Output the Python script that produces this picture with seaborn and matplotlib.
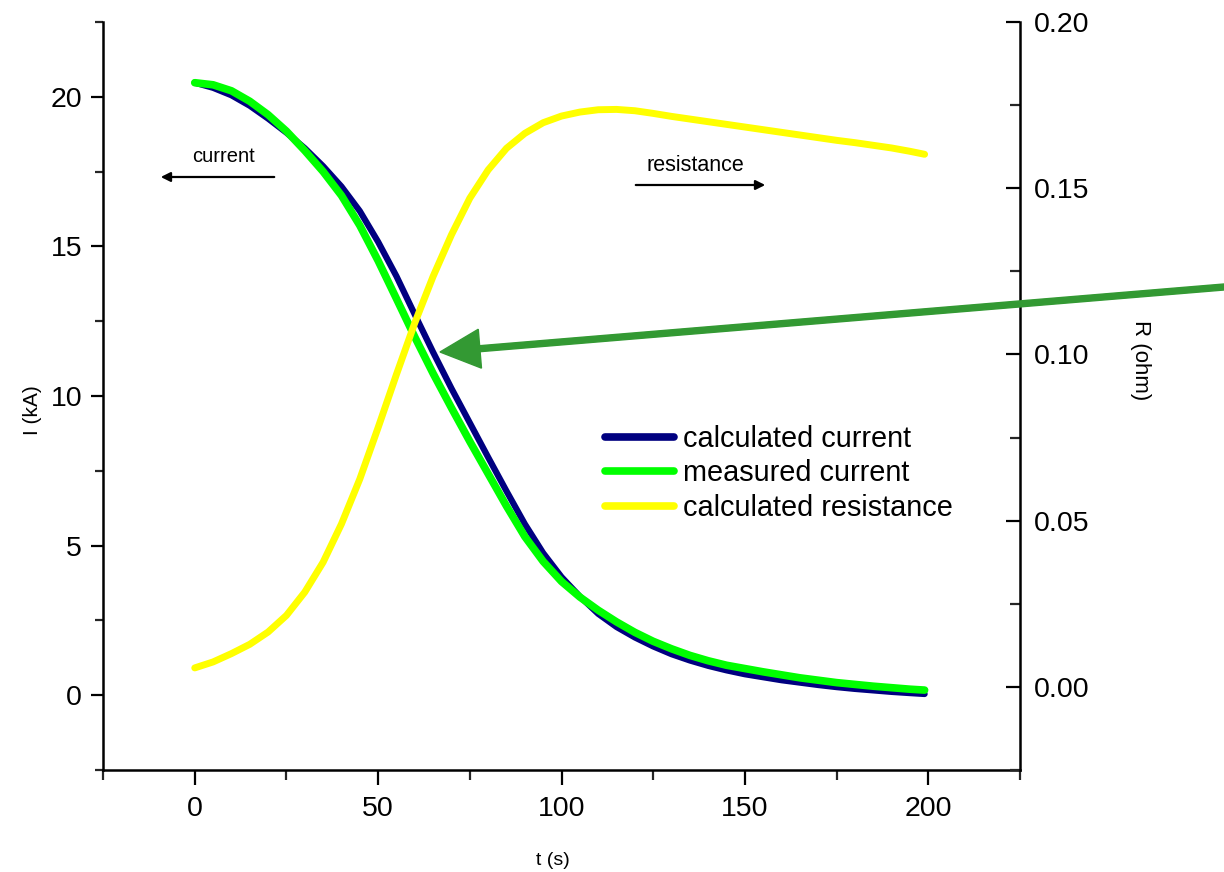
import numpy as np
import pandas as pd
import seaborn as sns
import matplotlib.pyplot as plt
from matplotlib.patches import FancyArrow
from matplotlib.lines import Line2D

# time axis (s) and values
t = [0, 5, 10, 15, 20, 25, 30, 35, 40, 45, 50, 55, 60, 65, 70, 75, 80, 85, 90, 95,
     100, 105, 110, 115, 120, 125, 130, 135, 140, 145, 150, 155, 160, 165, 170, 175,
     180, 185, 190, 195, 199]

# calculated current (kA)
calc_current = [20.47, 20.30, 20.05, 19.70, 19.27, 18.80, 18.28, 17.68, 17.00, 16.18,
                15.15, 14.00, 12.72, 11.46, 10.25, 9.10, 7.95, 6.82, 5.72, 4.75,
                3.95, 3.30, 2.72, 2.28, 1.93, 1.63, 1.37, 1.16, 0.98, 0.83,
                0.70, 0.60, 0.50, 0.42, 0.34, 0.27, 0.21, 0.16, 0.11, 0.07, 0.04]

# measured current (kA)
meas_current = [20.47, 20.40, 20.20, 19.85, 19.40, 18.85, 18.20, 17.50, 16.70, 15.70,
                14.52, 13.25, 11.97, 10.75, 9.60, 8.48, 7.40, 6.32, 5.30, 4.47,
                3.80, 3.28, 2.84, 2.45, 2.10, 1.80, 1.55, 1.33, 1.15, 1.00,
                0.89, 0.78, 0.68, 0.58, 0.50, 0.42, 0.36, 0.30, 0.25, 0.20, 0.17]

# calculated resistance (ohm)
calc_resistance = [0.0057, 0.0075, 0.0100, 0.0128, 0.0165, 0.0215, 0.0285, 0.0375, 0.0490,
                   0.0625, 0.0780, 0.0940, 0.1095, 0.1235, 0.1360, 0.1470, 0.1555, 0.1620,
                   0.1665, 0.1697, 0.1717, 0.1729, 0.1736, 0.1737, 0.1733, 0.1725, 0.1716,
                   0.1708, 0.1700, 0.1692, 0.1684, 0.1676, 0.1668, 0.1660, 0.1652, 0.1644,
                   0.1637, 0.1629, 0.1621, 0.1611, 0.1602]

sns.set_style('ticks')
plt.rcParams['font.family'] = ['Liberation Sans', 'DejaVu Sans']

fig = plt.figure(figsize=(12.24, 8.72), dpi=100)
ax = fig.add_axes([0.0842, 0.1170, 0.7491, 0.8578])
ax2 = ax.twinx()

df = pd.DataFrame({'t': t, 'calc': calc_current, 'meas': meas_current, 'R': calc_resistance})

line_kw = dict(solid_joinstyle='round', solid_capstyle='round')
sns.lineplot(data=df, x='t', y='calc', ax=ax, color='#000080', linewidth=4.5, zorder=2, **line_kw)
sns.lineplot(data=df, x='t', y='meas', ax=ax, color='#00ff00', linewidth=5.5, zorder=3, **line_kw)
sns.lineplot(data=df, x='t', y='R', ax=ax2, color='#ffff00', linewidth=5, zorder=4, **line_kw)

ax.set_xlim(-25, 225)
ax.set_ylim(-2.5, 22.5)
ax2.set_ylim(-0.025, 0.20)

ax.set_xticks([0, 50, 100, 150, 200])
ax.set_xticks([-25, 25, 75, 125, 175, 225], minor=True)
ax.set_yticks([0, 5, 10, 15, 20])
ax.set_yticks([-2.5, 2.5, 7.5, 12.5, 17.5, 22.5], minor=True)
ax2.set_yticks([0, 0.05, 0.10, 0.15, 0.20])
ax2.set_yticklabels(['0.00', '0.05', '0.10', '0.15', '0.20'])
ax2.set_yticks([-0.025, 0.025, 0.075, 0.125, 0.175], minor=True)

for a in (ax, ax2):
    a.set_xlabel('')
    a.set_ylabel('')
    a.spines['top'].set_visible(False)
    for s in ('left', 'right', 'bottom'):
        a.spines[s].set_linewidth(1.8)
        a.spines[s].set_color('black')

ax.spines['right'].set_visible(False)
ax2.spines['left'].set_visible(False)
ax2.spines['bottom'].set_visible(False)

ax.tick_params(axis='x', which='major', direction='out', length=11, width=1.6, labelsize=20.5, pad=8, colors='black')
ax.tick_params(axis='x', which='minor', direction='out', length=7, width=1.6)
ax.tick_params(axis='y', which='major', direction='out', length=9, width=1.6, labelsize=20.5, pad=6, colors='black')
ax.tick_params(axis='y', which='minor', direction='out', length=6, width=1.6)
ax2.tick_params(axis='y', which='major', direction='in', length=10, width=1.6, labelsize=20.5, pad=10, colors='black')
ax2.tick_params(axis='y', which='minor', direction='in', length=7, width=1.6)

# axis titles placed as in the picture
fig.text(32 / 1224, 1 - 410 / 872, 'I (kA)', rotation=90, ha='center', va='center', fontsize=15, color='black')
fig.text(553 / 1224, 1 - 860 / 872, 't (s)', ha='center', va='center', fontsize=14, color='black')
fig.text(1140 / 1224, 1 - 360 / 872, 'R (ohm)', rotation=270, ha='center', va='center', fontsize=16, color='black')

# small direction hints
fig.text(224 / 1224, 1 - 157 / 872, 'current', ha='center', va='center', fontsize=14.5, color='black')
ax.annotate('', xy=(158, 872 - 177), xytext=(277, 872 - 177), xycoords='figure pixels',
            textcoords='figure pixels',
            arrowprops=dict(arrowstyle='-|>', color='black', lw=1.6, mutation_scale=14))
fig.text(695 / 1224, 1 - 165 / 872, 'resistance', ha='center', va='center', fontsize=15.5, color='black')
ax.annotate('', xy=(768, 872 - 185), xytext=(633, 872 - 185), xycoords='figure pixels',
            textcoords='figure pixels',
            arrowprops=dict(arrowstyle='-|>', color='black', lw=1.6, mutation_scale=14))

# big green pointer
tip_x, tip_y = 4.40, 8.72 - 3.52
tail_x, tail_y = 12.30, 8.72 - 2.865
fig.patches.append(FancyArrow(tail_x, tail_y, tip_x - tail_x, tip_y - tail_y, width=0.06,
                              head_width=0.39, head_length=0.40, length_includes_head=True,
                              color='#339933', transform=fig.dpi_scale_trans, figure=fig))

for a in (ax, ax2):
    if a.get_legend() is not None:
        a.get_legend().remove()

handles = [Line2D([], [], color='#000080', lw=5.5),
           Line2D([], [], color='#00ff00', lw=5.5),
           Line2D([], [], color='#ffff00', lw=5.5)]
labels = ['calculated current', 'measured current', 'calculated resistance']
leg = fig.legend(handles, labels, loc='upper left', bbox_to_anchor=(605 / 1224, 1 - 425 / 872),
                 frameon=False, fontsize=20.8, handlelength=2.4, handletextpad=0.3,
                 labelspacing=0.22, borderpad=0, borderaxespad=0)
for txt in leg.get_texts():
    txt.set_color('black')

fig.savefig('out.png', dpi=100)
